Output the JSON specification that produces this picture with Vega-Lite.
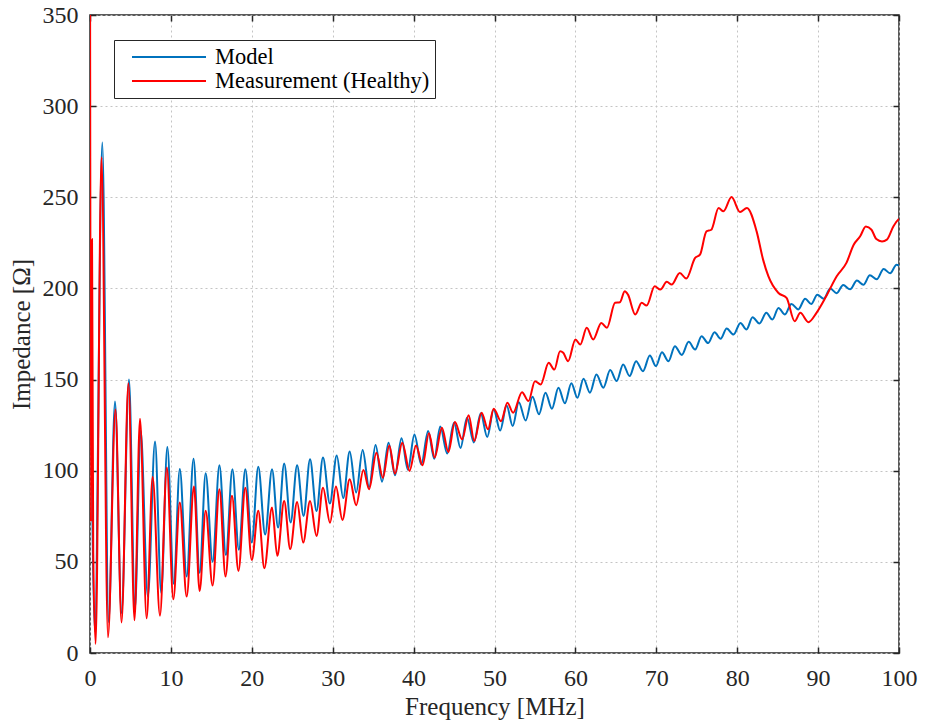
{
  "$schema": "https://vega.github.io/schema/vega-lite/v6.json",
  "width": 809,
  "height": 638,
  "autosize": {"type": "none"},
  "padding": {"left": 90, "top": 15, "right": 26, "bottom": 72},
  "background": "white",
  "config": {
    "view": {"stroke": "#262626", "strokeWidth": 1.5},
    "font": "Liberation Serif",
    "style": {"guide-label": {"font": "Liberation Serif"}, "guide-title": {"font": "Liberation Serif"}},
    "axis": {"labelFont": "Liberation Serif", "titleFont": "Liberation Serif", "labelFlush": false, "labelOverlap": false},
    "legend": {"labelFont": "Liberation Serif"}
  },
  "datasets": {
    "model": [
      {"f":0,"z":212,"s":"Model"},{"f":0.6,"z":12,"s":"Model"},{"f":1.52,"z":280,"s":"Model"},{"f":2.3,"z":17,"s":"Model"},
      {"f":3.09,"z":138,"s":"Model"},{"f":3.9,"z":22,"s":"Model"},{"f":4.82,"z":150,"s":"Model"},{"f":5.55,"z":24,"s":"Model"},
      {"f":6.26,"z":122,"s":"Model"},{"f":7.15,"z":31,"s":"Model"},{"f":8.04,"z":116,"s":"Model"},{"f":8.8,"z":33,"s":"Model"},
      {"f":9.56,"z":113,"s":"Model"},{"f":10.35,"z":38,"s":"Model"},{"f":11.1,"z":101,"s":"Model"},{"f":11.95,"z":42,"s":"Model"},
      {"f":12.8,"z":106.6,"s":"Model"},{"f":13.55,"z":44,"s":"Model"},{"f":14.3,"z":98.6,"s":"Model"},{"f":15.15,"z":50,"s":"Model"},
      {"f":16.0,"z":103,"s":"Model"},{"f":16.8,"z":53.7,"s":"Model"},{"f":17.6,"z":100.8,"s":"Model"},{"f":18.4,"z":56.6,"s":"Model"},
      {"f":19.2,"z":100.8,"s":"Model"},{"f":20.0,"z":60.6,"s":"Model"},{"f":20.8,"z":102.2,"s":"Model"},{"f":21.65,"z":65,"s":"Model"},
      {"f":22.5,"z":100.8,"s":"Model"},{"f":23.25,"z":68.8,"s":"Model"},{"f":24.0,"z":104,"s":"Model"},{"f":24.8,"z":71.6,"s":"Model"},
      {"f":25.6,"z":103,"s":"Model"},{"f":26.4,"z":75.2,"s":"Model"},{"f":27.2,"z":106.3,"s":"Model"},{"f":28.0,"z":77.9,"s":"Model"},
      {"f":28.8,"z":107.2,"s":"Model"},{"f":29.65,"z":82,"s":"Model"},{"f":30.5,"z":108.4,"s":"Model"},{"f":31.3,"z":85,"s":"Model"},
      {"f":32.1,"z":110.6,"s":"Model"},{"f":32.9,"z":88,"s":"Model"},{"f":33.7,"z":111.4,"s":"Model"},{"f":34.5,"z":91,"s":"Model"},
      {"f":35.3,"z":114.1,"s":"Model"},{"f":36.1,"z":94,"s":"Model"},{"f":36.9,"z":115.4,"s":"Model"},{"f":37.7,"z":97.5,"s":"Model"},
      {"f":38.5,"z":117.8,"s":"Model"},{"f":39.3,"z":100.5,"s":"Model"},{"f":40.1,"z":119.8,"s":"Model"},{"f":40.95,"z":103.5,"s":"Model"},
      {"f":41.8,"z":121.8,"s":"Model"},{"f":42.55,"z":106.5,"s":"Model"},{"f":43.3,"z":124.2,"s":"Model"},{"f":44.15,"z":109.5,"s":"Model"},
      {"f":45.0,"z":126.3,"s":"Model"},{"f":45.8,"z":112.5,"s":"Model"},{"f":46.6,"z":129.1,"s":"Model"},{"f":47.45,"z":115.5,"s":"Model"},
      {"f":48.3,"z":131.5,"s":"Model"},{"f":49.1,"z":118.5,"s":"Model"},{"f":49.9,"z":133.6,"s":"Model"},{"f":50.7,"z":122,"s":"Model"},
      {"f":51.5,"z":135.8,"s":"Model"},{"f":52.25,"z":124.5,"s":"Model"},{"f":53.0,"z":137.6,"s":"Model"},{"f":53.85,"z":127.5,"s":"Model"},
      {"f":54.7,"z":140.6,"s":"Model"},{"f":55.5,"z":131,"s":"Model"},{"f":56.3,"z":142.8,"s":"Model"},{"f":57.1,"z":134,"s":"Model"},
      {"f":57.9,"z":145.5,"s":"Model"},{"f":58.7,"z":137,"s":"Model"},{"f":59.5,"z":148,"s":"Model"},{"f":60.25,"z":140,"s":"Model"},
      {"f":61.0,"z":150.4,"s":"Model"},{"f":61.8,"z":142.8,"s":"Model"},{"f":62.6,"z":152.8,"s":"Model"},{"f":63.45,"z":145.5,"s":"Model"},
      {"f":64.3,"z":155.2,"s":"Model"},{"f":65.1,"z":149.2,"s":"Model"},{"f":65.9,"z":158.3,"s":"Model"},{"f":66.7,"z":151.9,"s":"Model"},
      {"f":67.5,"z":160.1,"s":"Model"},{"f":68.35,"z":154.6,"s":"Model"},{"f":69.2,"z":163.2,"s":"Model"},{"f":69.95,"z":157.4,"s":"Model"},
      {"f":70.7,"z":165,"s":"Model"},{"f":71.5,"z":160.1,"s":"Model"},{"f":72.3,"z":168.3,"s":"Model"},{"f":73.15,"z":163.5,"s":"Model"},
      {"f":74.0,"z":170.7,"s":"Model"},{"f":74.8,"z":166.5,"s":"Model"},{"f":75.6,"z":173.8,"s":"Model"},{"f":76.4,"z":170,"s":"Model"},
      {"f":77.2,"z":176,"s":"Model"},{"f":77.95,"z":172.4,"s":"Model"},{"f":78.7,"z":178,"s":"Model"},{"f":79.55,"z":174.7,"s":"Model"},
      {"f":80.4,"z":181.1,"s":"Model"},{"f":81.15,"z":177.5,"s":"Model"},{"f":81.9,"z":184.2,"s":"Model"},{"f":82.75,"z":180.8,"s":"Model"},
      {"f":83.6,"z":186.6,"s":"Model"},{"f":84.35,"z":182.9,"s":"Model"},{"f":85.1,"z":189.3,"s":"Model"},{"f":85.9,"z":185.7,"s":"Model"},
      {"f":86.7,"z":191.5,"s":"Model"},{"f":87.55,"z":188.5,"s":"Model"},{"f":88.4,"z":194.4,"s":"Model"},{"f":89.15,"z":191.5,"s":"Model"},
      {"f":89.9,"z":196.6,"s":"Model"},{"f":90.7,"z":194.3,"s":"Model"},{"f":91.5,"z":199.9,"s":"Model"},{"f":92.3,"z":197.4,"s":"Model"},
      {"f":93.1,"z":201.9,"s":"Model"},{"f":93.95,"z":199.5,"s":"Model"},{"f":94.8,"z":204.3,"s":"Model"},{"f":95.6,"z":202,"s":"Model"},
      {"f":96.4,"z":207.2,"s":"Model"},{"f":97.25,"z":205,"s":"Model"},{"f":98.1,"z":210.7,"s":"Model"},{"f":98.9,"z":208.3,"s":"Model"},
      {"f":99.7,"z":213,"s":"Model"},{"f":100,"z":212.5,"s":"Model"}
    ],
    "meas": [
      {"f":0,"z":400,"s":"Measurement (Healthy)"},{"f":0.12,"z":72,"s":"Measurement (Healthy)"},{"f":0.25,"z":227,"s":"Measurement (Healthy)"},{"f":0.4,"z":55,"s":"Measurement (Healthy)"},
      {"f":0.7,"z":5,"s":"Measurement (Healthy)"},{"f":1.42,"z":272,"s":"Measurement (Healthy)"},{"f":2.22,"z":8.6,"s":"Measurement (Healthy)"},{"f":3.15,"z":133.6,"s":"Measurement (Healthy)"},
      {"f":3.9,"z":16.8,"s":"Measurement (Healthy)"},{"f":4.75,"z":148,"s":"Measurement (Healthy)"},{"f":5.5,"z":18,"s":"Measurement (Healthy)"},{"f":6.18,"z":128.5,"s":"Measurement (Healthy)"},
      {"f":7.0,"z":19,"s":"Measurement (Healthy)"},{"f":7.74,"z":96.6,"s":"Measurement (Healthy)"},{"f":8.65,"z":20.5,"s":"Measurement (Healthy)"},{"f":9.5,"z":101.7,"s":"Measurement (Healthy)"},
      {"f":10.3,"z":29.5,"s":"Measurement (Healthy)"},{"f":11.1,"z":82.5,"s":"Measurement (Healthy)"},{"f":11.95,"z":31,"s":"Measurement (Healthy)"},{"f":12.85,"z":91.3,"s":"Measurement (Healthy)"},
      {"f":13.55,"z":34,"s":"Measurement (Healthy)"},{"f":14.3,"z":78,"s":"Measurement (Healthy)"},{"f":15.15,"z":37,"s":"Measurement (Healthy)"},{"f":16.0,"z":89.8,"s":"Measurement (Healthy)"},
      {"f":16.75,"z":42,"s":"Measurement (Healthy)"},{"f":17.55,"z":86.2,"s":"Measurement (Healthy)"},{"f":18.35,"z":45,"s":"Measurement (Healthy)"},{"f":19.2,"z":90.7,"s":"Measurement (Healthy)"},
      {"f":20.0,"z":51,"s":"Measurement (Healthy)"},{"f":20.8,"z":78,"s":"Measurement (Healthy)"},{"f":21.55,"z":46.5,"s":"Measurement (Healthy)"},{"f":22.5,"z":79.8,"s":"Measurement (Healthy)"},
      {"f":23.15,"z":53.3,"s":"Measurement (Healthy)"},{"f":24.0,"z":83.4,"s":"Measurement (Healthy)"},{"f":24.75,"z":57,"s":"Measurement (Healthy)"},{"f":25.6,"z":82.9,"s":"Measurement (Healthy)"},
      {"f":26.35,"z":60.6,"s":"Measurement (Healthy)"},{"f":27.2,"z":83.4,"s":"Measurement (Healthy)"},{"f":28.0,"z":64.2,"s":"Measurement (Healthy)"},{"f":28.8,"z":90.7,"s":"Measurement (Healthy)"},
      {"f":29.67,"z":71.5,"s":"Measurement (Healthy)"},{"f":30.4,"z":91.3,"s":"Measurement (Healthy)"},{"f":31.2,"z":73,"s":"Measurement (Healthy)"},{"f":32.1,"z":95.3,"s":"Measurement (Healthy)"},
      {"f":32.9,"z":81.1,"s":"Measurement (Healthy)"},{"f":33.8,"z":100.4,"s":"Measurement (Healthy)"},{"f":34.5,"z":89.8,"s":"Measurement (Healthy)"},{"f":35.4,"z":109.9,"s":"Measurement (Healthy)"},
      {"f":36.2,"z":96.2,"s":"Measurement (Healthy)"},{"f":37.0,"z":113.9,"s":"Measurement (Healthy)"},{"f":37.7,"z":98.4,"s":"Measurement (Healthy)"},{"f":38.6,"z":115.4,"s":"Measurement (Healthy)"},
      {"f":39.5,"z":99.9,"s":"Measurement (Healthy)"},{"f":40.3,"z":113.9,"s":"Measurement (Healthy)"},{"f":41.1,"z":103,"s":"Measurement (Healthy)"},{"f":41.9,"z":120.5,"s":"Measurement (Healthy)"},
      {"f":42.6,"z":107.2,"s":"Measurement (Healthy)"},{"f":43.5,"z":123.6,"s":"Measurement (Healthy)"},{"f":44.3,"z":110.3,"s":"Measurement (Healthy)"},{"f":45.1,"z":126.7,"s":"Measurement (Healthy)"},
      {"f":46.0,"z":117.2,"s":"Measurement (Healthy)"},{"f":46.8,"z":130.4,"s":"Measurement (Healthy)"},{"f":47.5,"z":116.3,"s":"Measurement (Healthy)"},{"f":48.4,"z":131.8,"s":"Measurement (Healthy)"},
      {"f":49.2,"z":122.7,"s":"Measurement (Healthy)"},{"f":49.9,"z":134,"s":"Measurement (Healthy)"},{"f":50.8,"z":127.2,"s":"Measurement (Healthy)"},{"f":51.6,"z":137.3,"s":"Measurement (Healthy)"},
      {"f":52.3,"z":131.8,"s":"Measurement (Healthy)"},{"f":53.4,"z":143.1,"s":"Measurement (Healthy)"},{"f":54.2,"z":138.2,"s":"Measurement (Healthy)"},{"f":55.0,"z":149.1,"s":"Measurement (Healthy)"},
      {"f":55.7,"z":147.3,"s":"Measurement (Healthy)"},{"f":56.7,"z":159.2,"s":"Measurement (Healthy)"},{"f":57.4,"z":155.5,"s":"Measurement (Healthy)"},{"f":58.1,"z":165.6,"s":"Measurement (Healthy)"},
      {"f":58.5,"z":164.7,"s":"Measurement (Healthy)"},{"f":59.1,"z":160.1,"s":"Measurement (Healthy)"},{"f":60.0,"z":172,"s":"Measurement (Healthy)"},{"f":60.6,"z":169.2,"s":"Measurement (Healthy)"},
      {"f":61.4,"z":178.4,"s":"Measurement (Healthy)"},{"f":62.2,"z":172,"s":"Measurement (Healthy)"},{"f":63.2,"z":181.1,"s":"Measurement (Healthy)"},{"f":63.9,"z":178.4,"s":"Measurement (Healthy)"},
      {"f":64.9,"z":192.1,"s":"Measurement (Healthy)"},{"f":65.5,"z":192.4,"s":"Measurement (Healthy)"},{"f":66.1,"z":198.5,"s":"Measurement (Healthy)"},{"f":66.5,"z":196.6,"s":"Measurement (Healthy)"},
      {"f":67.4,"z":185.7,"s":"Measurement (Healthy)"},{"f":68.2,"z":192.1,"s":"Measurement (Healthy)"},{"f":68.8,"z":190.6,"s":"Measurement (Healthy)"},{"f":69.8,"z":201.2,"s":"Measurement (Healthy)"},
      {"f":70.5,"z":199.4,"s":"Measurement (Healthy)"},{"f":71.3,"z":203.6,"s":"Measurement (Healthy)"},{"f":71.9,"z":202.1,"s":"Measurement (Healthy)"},{"f":72.9,"z":208.5,"s":"Measurement (Healthy)"},
      {"f":73.7,"z":205.4,"s":"Measurement (Healthy)"},{"f":74.8,"z":216.7,"s":"Measurement (Healthy)"},{"f":75.4,"z":218.5,"s":"Measurement (Healthy)"},{"f":76.2,"z":231.3,"s":"Measurement (Healthy)"},
      {"f":76.8,"z":232.2,"s":"Measurement (Healthy)"},{"f":77.7,"z":244.1,"s":"Measurement (Healthy)"},{"f":78.3,"z":242.3,"s":"Measurement (Healthy)"},{"f":79.3,"z":250.1,"s":"Measurement (Healthy)"},
      {"f":80.35,"z":241.9,"s":"Measurement (Healthy)"},{"f":81.2,"z":244.1,"s":"Measurement (Healthy)"},{"f":82.4,"z":231.3,"s":"Measurement (Healthy)"},{"f":83.2,"z":215.8,"s":"Measurement (Healthy)"},
      {"f":83.85,"z":206.7,"s":"Measurement (Healthy)"},{"f":85.1,"z":197.5,"s":"Measurement (Healthy)"},{"f":86.1,"z":194.8,"s":"Measurement (Healthy)"},{"f":87.1,"z":182,"s":"Measurement (Healthy)"},
      {"f":87.8,"z":186.6,"s":"Measurement (Healthy)"},{"f":88.8,"z":181.5,"s":"Measurement (Healthy)"},{"f":89.8,"z":186.6,"s":"Measurement (Healthy)"},{"f":91.0,"z":195.7,"s":"Measurement (Healthy)"},
      {"f":92.3,"z":206.7,"s":"Measurement (Healthy)"},{"f":93.5,"z":214,"s":"Measurement (Healthy)"},{"f":94.4,"z":224,"s":"Measurement (Healthy)"},{"f":95.2,"z":228.6,"s":"Measurement (Healthy)"},
      {"f":95.9,"z":234,"s":"Measurement (Healthy)"},{"f":96.6,"z":232.2,"s":"Measurement (Healthy)"},{"f":97.2,"z":227.1,"s":"Measurement (Healthy)"},{"f":97.9,"z":225.8,"s":"Measurement (Healthy)"},
      {"f":98.5,"z":226.8,"s":"Measurement (Healthy)"},{"f":99.3,"z":234,"s":"Measurement (Healthy)"},{"f":99.9,"z":237.7,"s":"Measurement (Healthy)"},{"f":100,"z":238,"s":"Measurement (Healthy)"}
    ]
  },
  "layer": [
    {
      "data": {"name": "model"},
      "mark": {"type": "line", "interpolate": "monotone", "strokeWidth": 2, "clip": true},
      "encoding": {
        "x": {
          "field": "f", "type": "quantitative",
          "scale": {"domain": [0, 100], "nice": false, "zero": false},
          "axis": {
            "orient": "bottom", "title": "Frequency [MHz]",
            "values": [0,10,20,30,40,50,60,70,80,90,100],
            "grid": true, "gridDash": [2, 3], "gridColor": "#c4c4c4", "gridWidth": 1,
            "domain": false, "ticks": true, "tickSize": -6, "tickColor": "#262626", "tickWidth": 1.5,
            "labelFont": "Times New Roman", "labelFontSize": 24, "labelColor": "#262626", "labelPadding": 19, "labelFlush": false,
            "titleFont": "Liberation Serif", "titleFontSize": 25, "titleFontWeight": "normal", "titleColor": "#262626", "titlePadding": 4
          }
        },
        "y": {
          "field": "z", "type": "quantitative",
          "scale": {"domain": [0, 350], "nice": false},
          "axis": {
            "orient": "left", "title": "Impedance [Ω]",
            "values": [0,50,100,150,200,250,300,350],
            "grid": true, "gridDash": [2, 3], "gridColor": "#c4c4c4", "gridWidth": 1,
            "domain": false, "ticks": true, "tickSize": -6, "tickColor": "#262626", "tickWidth": 1.5,
            "labelFont": "Times New Roman", "labelFontSize": 24, "labelColor": "#262626", "labelPadding": 18, "labelFlush": false,
            "titleFont": "Liberation Serif", "titleFontSize": 25, "titleFontWeight": "normal", "titleColor": "#262626", "titlePadding": 8
          }
        },
        "color": {
          "field": "s", "type": "nominal",
          "scale": {"domain": ["Model", "Measurement (Healthy)"], "range": ["#0072BD", "#FF0000"]},
          "legend": {
            "orient": "none", "legendX": 24, "legendY": 25, "title": null,
            "symbolType": "stroke", "symbolSize": 5476, "symbolStrokeWidth": 2,
            "labelFont": "Liberation Serif", "labelFontSize": 22.5, "labelColor": "#000000", "labelLimit": 400,
            "strokeColor": "#262626", "fillColor": "white", "padding": 5,
            "symbolOffset": 12, "labelOffset": 8, "clipHeight": 24, "rowPadding": 0
          }
        }
      }
    },
    {
      "data": {"name": "meas"},
      "mark": {"type": "line", "interpolate": "monotone", "strokeWidth": 2, "clip": true},
      "encoding": {
        "x": {
          "field": "f", "type": "quantitative",
          "axis": {
            "orient": "top", "title": null, "labels": false,
            "values": [0,10,20,30,40,50,60,70,80,90,100],
            "grid": false, "domain": false, "ticks": true, "tickSize": -6, "tickColor": "#262626", "tickWidth": 1.5
          }
        },
        "y": {
          "field": "z", "type": "quantitative",
          "axis": {
            "orient": "right", "title": null, "labels": false,
            "values": [0,50,100,150,200,250,300,350],
            "grid": false, "domain": false, "ticks": true, "tickSize": -6, "tickColor": "#262626", "tickWidth": 1.5
          }
        },
        "color": {"field": "s", "type": "nominal"}
      }
    }
  ],
  "resolve": {"axis": {"x": "independent", "y": "independent"}}
}
